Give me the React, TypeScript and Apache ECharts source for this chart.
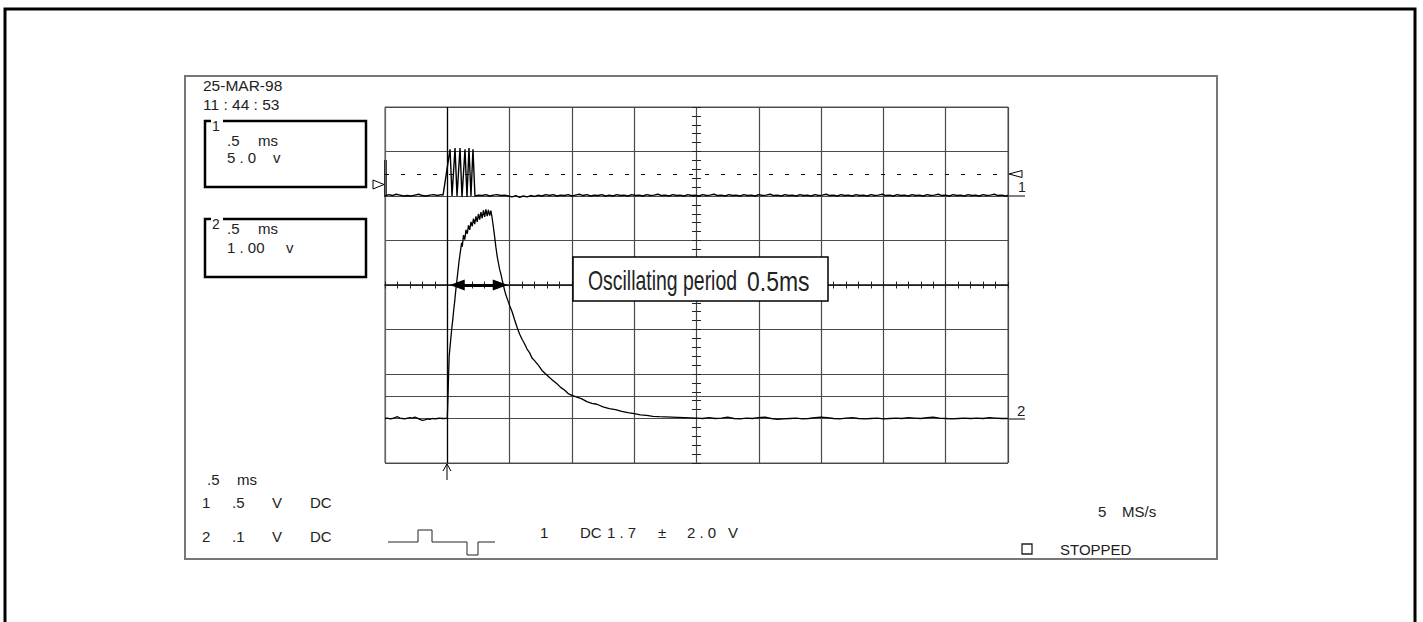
import React, { useEffect, useRef } from 'react';
import * as echarts from 'echarts';

// ---------- data (time in ms, amplitude in screen divisions) ----------
const timeMin = 0;
const timeMax = 5;
const timePerDiv = 0.5;
const divMin = -4;
const divMax = 4;

const ch1Trace: [number, number][] = [
  [0, 2.0], [0.03, 2.03], [0.06, 2.01], [0.09, 2.04], [0.12, 2.02], [0.15, 2.0], [0.18, 2.01], [0.21, 2.0],
  [0.24, 2.02], [0.27, 2.04], [0.3, 2.01], [0.33, 2.0], [0.36, 2.02], [0.39, 2.03], [0.42, 2.01], [0.45, 2.03],
  [0.466, 2.02], [0.522, 3.05], [0.538, 2.0], [0.562, 3.08], [0.578, 2.0], [0.602, 3.08], [0.618, 1.98],
  [0.642, 3.05], [0.658, 1.98], [0.674, 3.08], [0.69, 2.0], [0.706, 3.05], [0.722, 2.0],
  [0.75, 2.02], [0.78, 2.01], [0.81, 2.03], [0.84, 2.0], [0.87, 2.02], [0.9, 2.03], [0.93, 2.01], [0.96, 2.02],
  [0.99, 2.0], [1.02, 1.98], [1.05, 2.01], [1.08, 1.97], [1.11, 2.0], [1.14, 1.98], [1.17, 2.01], [1.2, 1.99],
  [1.23, 2.02], [1.26, 2.0], [1.29, 2.03], [1.32, 2.01], [1.35, 2.03], [1.38, 2.0], [1.41, 2.02], [1.44, 2.01],
  [1.47, 2.03], [1.5, 2.0], [1.53, 2.02], [1.56, 2.04], [1.59, 2.01], [1.62, 2.03], [1.65, 2.0], [1.68, 2.02],
  [1.71, 2.01], [1.74, 2.03], [1.77, 2.0], [1.8, 2.02], [1.83, 2.0], [1.86, 2.03], [1.89, 2.01], [1.92, 2.02],
  [1.95, 2.0], [1.98, 2.03], [2.01, 2.01], [2.04, 2.02], [2.07, 2.0], [2.1, 2.03], [2.13, 2.01], [2.16, 2.02],
  [2.19, 2.04], [2.22, 2.01], [2.25, 2.02], [2.28, 2.0], [2.31, 2.03], [2.34, 2.01], [2.37, 2.02], [2.4, 2.0],
  [2.43, 2.03], [2.46, 2.01], [2.49, 2.02], [2.52, 2.0], [2.55, 2.03], [2.58, 2.01], [2.61, 2.02], [2.64, 2.04],
  [2.67, 2.01], [2.7, 2.02], [2.73, 2.0], [2.76, 2.03], [2.79, 2.01], [2.82, 2.02], [2.85, 2.0], [2.88, 2.03],
  [2.91, 2.01], [2.94, 2.02], [2.97, 2.0], [3.0, 2.03], [3.03, 2.01], [3.06, 2.02], [3.09, 2.04], [3.12, 2.01],
  [3.15, 2.02], [3.18, 2.0], [3.21, 2.03], [3.24, 2.01], [3.27, 2.02], [3.3, 2.0], [3.33, 2.03], [3.36, 2.01],
  [3.39, 2.02], [3.42, 2.0], [3.45, 2.03], [3.48, 2.01], [3.51, 2.02], [3.54, 2.04], [3.57, 2.01], [3.6, 2.02],
  [3.63, 2.0], [3.66, 2.03], [3.69, 2.01], [3.72, 2.02], [3.75, 2.0], [3.78, 2.03], [3.81, 2.01], [3.84, 2.02],
  [3.87, 2.0], [3.9, 2.03], [3.93, 2.01], [3.96, 2.02], [3.99, 2.04], [4.02, 2.01], [4.05, 2.02], [4.08, 2.0],
  [4.11, 2.03], [4.14, 2.01], [4.17, 2.02], [4.2, 2.0], [4.23, 2.03], [4.26, 2.01], [4.29, 2.02], [4.32, 2.0],
  [4.35, 2.03], [4.38, 2.01], [4.41, 2.02], [4.44, 2.04], [4.47, 2.01], [4.5, 2.02], [4.53, 2.0], [4.56, 2.03],
  [4.59, 2.01], [4.62, 2.02], [4.65, 2.0], [4.68, 2.03], [4.71, 2.01], [4.74, 2.02], [4.77, 2.0], [4.8, 2.03],
  [4.83, 2.01], [4.86, 2.02], [4.89, 2.04], [4.92, 2.01], [4.95, 2.02], [4.98, 2.0], [5.0, 2.01],
];

const ch2Trace: [number, number][] = [
  [0.0, -3.0], [0.02, -2.99], [0.04, -3.01], [0.06, -3.0], [0.08, -2.98], [0.1, -2.96], [0.12, -2.99], [0.14, -3.0],
  [0.16, -3.01], [0.18, -2.99], [0.2, -2.98], [0.22, -2.99], [0.24, -2.97], [0.26, -2.99], [0.28, -3.02], [0.3, -3.04],
  [0.32, -3.03], [0.34, -3.01], [0.36, -3.02], [0.38, -3.0], [0.4, -3.01], [0.42, -3.0], [0.44, -2.99], [0.46, -3.0],
  [0.48, -3.0], [0.5, -2.99],
  [0.505, -2.55], [0.51, -2.05], [0.515, -1.6], [0.525, -1.3], [0.535, -1.0], [0.545, -0.75], [0.55, -0.6],
  [0.56, -0.35], [0.565, -0.2], [0.575, 0.05], [0.585, 0.3], [0.595, 0.55], [0.605, 0.75], [0.615, 0.95],
  [0.62, 0.86], [0.63, 1.12], [0.64, 1.02], [0.65, 1.24], [0.66, 1.15], [0.67, 1.34], [0.68, 1.24], [0.69, 1.42],
  [0.7, 1.32], [0.71, 1.49], [0.72, 1.37], [0.73, 1.54], [0.74, 1.42], [0.75, 1.6], [0.76, 1.47], [0.77, 1.64],
  [0.78, 1.5], [0.79, 1.68], [0.8, 1.53], [0.81, 1.7], [0.82, 1.55], [0.83, 1.69], [0.84, 1.56], [0.85, 1.67],
  [0.86, 1.5],
  [0.87, 1.3], [0.88, 1.08], [0.89, 0.85], [0.9, 0.65], [0.91, 0.5], [0.92, 0.35], [0.93, 0.25], [0.94, 0.12],
  [0.95, 0.0], [0.96, -0.12], [0.97, -0.22], [0.98, -0.3], [0.99, -0.38], [1.0, -0.46], [1.02, -0.6], [1.04, -0.78],
  [1.06, -0.95], [1.08, -1.1], [1.1, -1.22], [1.12, -1.32], [1.14, -1.44], [1.16, -1.52], [1.18, -1.64], [1.2, -1.7],
  [1.23, -1.8], [1.26, -1.92], [1.29, -2.0], [1.32, -2.08], [1.35, -2.15], [1.38, -2.22], [1.41, -2.3], [1.44, -2.36],
  [1.47, -2.44], [1.5, -2.48], [1.54, -2.52], [1.58, -2.56], [1.62, -2.62], [1.66, -2.66], [1.7, -2.68], [1.75, -2.74],
  [1.8, -2.78], [1.85, -2.8], [1.9, -2.84], [1.95, -2.87], [2.0, -2.89], [2.05, -2.92], [2.1, -2.93], [2.15, -2.95],
  [2.2, -2.96], [2.3, -2.97], [2.4, -2.98], [2.5, -2.99],
  [2.55, -3.0], [2.6, -2.98], [2.65, -3.0], [2.7, -2.99], [2.75, -2.97], [2.8, -3.0], [2.85, -3.01], [2.9, -2.99],
  [2.95, -3.0], [3.0, -2.98], [3.05, -2.97], [3.1, -3.0], [3.15, -3.02], [3.2, -3.01], [3.25, -3.0], [3.3, -2.99],
  [3.35, -3.01], [3.4, -3.0], [3.45, -2.98], [3.5, -2.97], [3.55, -2.98], [3.6, -3.0], [3.65, -3.01], [3.7, -2.99],
  [3.75, -2.98], [3.8, -3.0], [3.85, -3.01], [3.9, -3.0], [3.95, -2.99], [4.0, -3.01], [4.05, -3.0], [4.1, -2.99],
  [4.15, -3.0], [4.2, -2.98], [4.25, -2.99], [4.3, -3.0], [4.35, -2.98], [4.4, -2.97], [4.45, -2.99], [4.5, -3.0],
  [4.55, -3.01], [4.6, -3.0], [4.65, -2.99], [4.7, -3.0], [4.75, -2.99], [4.8, -3.0], [4.85, -2.98], [4.9, -2.99],
  [4.95, -3.0], [5.0, -3.0],
];

const ch1TriggerLevel = 2.5;
const cursorLevel = -2.5;
const triggerTime = 0.5;
const periodStart = 0.58;
const periodEnd = 0.925;

const headerTexts = ['25-MAR-98', '11 : 44 : 53'];
const ch1BoxTexts = ['.5', 'ms', '5 . 0', 'v'];
const ch2BoxTexts = ['.5', 'ms', '1 . 00', 'v'];
const timebaseTexts = ['.5', 'ms'];
const ch1Setting = ['1', '.5', 'V', 'DC'];
const ch2Setting = ['2', '.1', 'V', 'DC'];
const triggerTexts = ['1', 'DC', '1 . 7', '±', '2 . 0', 'V'];
const rateTexts = ['5', 'MS/s'];
const statusText = 'STOPPED';
const annotationTexts = ['Oscillating period', '0.5ms'];

// ---------- presentation ----------
const FONT = '"Liberation Sans", Arial, Helvetica, sans-serif';
const INK = '#222';

function t(text: string, x: number, y: number, size = 15, extra: any = {}) {
  return {
    type: 'text',
    x,
    y,
    silent: true,
    ...extra,
    style: {
      text,
      fill: INK,
      font: `${size}px ${FONT}`,
      align: 'left',
      verticalAlign: 'middle',
      textAlign: 'left',
      textVerticalAlign: 'middle',
    },
  };
}

function ln(x1: number, y1: number, x2: number, y2: number, w = 1, c = INK) {
  return { type: 'line', silent: true, shape: { x1, y1, x2, y2 }, style: { stroke: c, lineWidth: w } };
}

function channelBox(top: number, bottom: number, label: string, texts: string[], xs: number[], ys: number[]) {
  const left = 205, right = 366;
  return [
    { type: 'polyline', silent: true, shape: { points: [[211, top], [left, top], [left, bottom], [right, bottom], [right, top], [223, top]] }, style: { stroke: '#000', lineWidth: 2.5, fill: null } },
    t(label, 212, top + 5, 14),
    t(texts[0], xs[0], ys[0]),
    t(texts[1], xs[1], ys[0]),
    t(texts[2], xs[2], ys[1]),
    t(texts[3], xs[3], ys[1]),
  ];
}

export default function App() {
  const ref = useRef<HTMLDivElement>(null);

  useEffect(() => {
    document.body.style.margin = '0';
    const chart = echarts.init(ref.current!, undefined, { renderer: 'svg' });

    const gridColor = '#4a4a4a';
    const tickAxisX = (inside: boolean) => ({
      type: 'value', min: timeMin, max: timeMax, interval: timePerDiv, position: 'bottom', offset: -178,
      axisLine: { show: false },
      axisTick: { show: true, inside, length: 3.5, lineStyle: { color: INK, width: 1 } },
      minorTick: { show: true, splitNumber: 5, length: 3.5, lineStyle: { color: INK, width: 1 } },
      axisLabel: { show: false }, splitLine: { show: false },
    });
    const tickAxisY = (inside: boolean) => ({
      type: 'value', min: divMin, max: divMax, interval: 1, position: 'left', offset: -311.5,
      axisLine: { show: false },
      axisTick: { show: true, inside, length: 4.5, lineStyle: { color: INK, width: 1 } },
      minorTick: { show: true, splitNumber: 5, length: 4.5, lineStyle: { color: INK, width: 1 } },
      axisLabel: { show: false }, splitLine: { show: false },
    });

    const graphic: any[] = [
      { type: 'rect', silent: true, shape: { x: 5, y: 9, width: 1410, height: 700 }, style: { stroke: '#000', lineWidth: 3, fill: null } },
      { type: 'rect', silent: true, shape: { x: 185, y: 76, width: 1032, height: 483 }, style: { stroke: '#777', lineWidth: 2, fill: null } },
      t(headerTexts[0], 203, 85, 15.5),
      t(headerTexts[1], 203, 104, 15.5),
      ...channelBox(121, 187, '1', ch1BoxTexts, [227, 258, 227, 273], [140, 157.5]),
      ...channelBox(219, 277, '2', ch2BoxTexts, [227, 258, 227, 286], [228.5, 247.5]),
      t(timebaseTexts[0], 207, 479),
      t(timebaseTexts[1], 237, 479),
      t(ch1Setting[0], 202, 502), t(ch1Setting[1], 232, 502), t(ch1Setting[2], 272, 502), t(ch1Setting[3], 310, 502),
      t(ch2Setting[0], 202, 536), t(ch2Setting[1], 232, 536), t(ch2Setting[2], 272, 536), t(ch2Setting[3], 310, 536),
      { type: 'polyline', silent: true, shape: { points: [[388, 542], [418, 542], [418, 530], [432, 530], [432, 542], [467, 542], [467, 555], [478, 555], [478, 542], [495, 542]] }, style: { stroke: INK, lineWidth: 1, fill: null } },
      t(triggerTexts[0], 540, 532), t(triggerTexts[1], 580, 532), t(triggerTexts[2], 607, 532),
      t(triggerTexts[3], 658, 532), t(triggerTexts[4], 687, 532), t(triggerTexts[5], 728, 532),
      t(rateTexts[0], 1098, 511), t(rateTexts[1], 1122, 511),
      { type: 'rect', silent: true, shape: { x: 1022, y: 544, width: 10, height: 10 }, style: { stroke: INK, lineWidth: 1.3, fill: null } },
      t(statusText, 1060, 549),
      // trigger position arrow under the graticule
      ln(447, 463, 447, 480, 1, '#000'),
      { type: 'polyline', silent: true, shape: { points: [[443, 471], [447, 464], [451, 471]] }, style: { stroke: '#000', lineWidth: 1, fill: null } },
      // channel ground markers on the right
      ln(1008, 196, 1025, 196, 1, '#000'),
      ln(1008, 419, 1025, 419, 1, '#000'),
      t('1', 1018, 187, 14),
      t('2', 1017, 410, 15),
      { type: 'polygon', silent: true, shape: { points: [[1009, 174], [1022, 170.5], [1022, 177.5]] }, style: { stroke: '#000', lineWidth: 1, fill: '#fff' } },
      { type: 'polygon', silent: true, shape: { points: [[384, 184.5], [373, 180], [373, 189]] }, style: { stroke: '#000', lineWidth: 1, fill: '#fff' } },
      ln(385.5, 160, 385.5, 197, 2.5, '#000'),
      // annotation box
      { type: 'rect', silent: true, z: 50, shape: { x: 573, y: 257, width: 255, height: 44 }, style: { stroke: '#000', lineWidth: 1.5, fill: '#fff' } },
      t(annotationTexts[0], 588, 281, 27, { z: 51, scaleX: 0.72 }),
      t(annotationTexts[1], 747, 281, 27, { z: 51, scaleX: 0.85 }),
    ];

    chart.setOption({
      animation: false,
      backgroundColor: '#fff',
      grid: { left: 385, top: 107, width: 623, height: 356, show: true, borderColor: '#555', borderWidth: 1, backgroundColor: 'transparent' },
      xAxis: [
        {
          type: 'value', min: timeMin, max: timeMax, interval: timePerDiv, position: 'bottom',
          axisLine: { show: true, lineStyle: { color: '#111', width: 1.5 } },
          axisTick: { show: false }, axisLabel: { show: false },
          splitLine: { show: true, lineStyle: { color: gridColor, width: 1.2 } },
        },
        tickAxisX(false),
        tickAxisX(true),
      ],
      yAxis: [
        {
          type: 'value', min: divMin, max: divMax, interval: 1, position: 'left',
          axisLine: { show: true, lineStyle: { color: '#666', width: 1 } },
          axisTick: { show: false }, axisLabel: { show: false },
          splitLine: { show: true, lineStyle: { color: gridColor, width: 1.2 } },
        },
        tickAxisY(false),
        tickAxisY(true),
      ],
      series: [
        {
          type: 'line', name: 'CH1', data: ch1Trace, showSymbol: false, symbol: 'none',
          lineStyle: { color: '#000', width: 1.4 }, z: 5,
          markLine: {
            silent: true, symbol: 'none', label: { show: false },
            data: [
              { yAxis: ch1TriggerLevel, lineStyle: { color: '#000', width: 1, type: [4, 12] } },
              { yAxis: cursorLevel, lineStyle: { color: gridColor, width: 1.2, type: 'solid' } },
              { xAxis: triggerTime, lineStyle: { color: '#000', width: 1.2, type: 'solid' } },
            ],
          },
        },
        {
          type: 'line', name: 'CH2', data: ch2Trace, showSymbol: false, symbol: 'none',
          lineStyle: { color: '#000', width: 1.3 }, z: 5,
          markLine: {
            silent: true, symbol: ['triangle', 'triangle'], symbolSize: [11, 15], label: { show: false },
            lineStyle: { color: '#000', width: 3, type: 'solid' },
            data: [[{ coord: [periodStart, 0] }, { coord: [periodEnd, 0] }]],
          },
        },
      ],
      graphic,
    });

    return () => chart.dispose();
  }, []);

  return <div ref={ref} style={{ position: 'fixed', left: 0, top: 0, width: 1423, height: 622 }} />;
}
